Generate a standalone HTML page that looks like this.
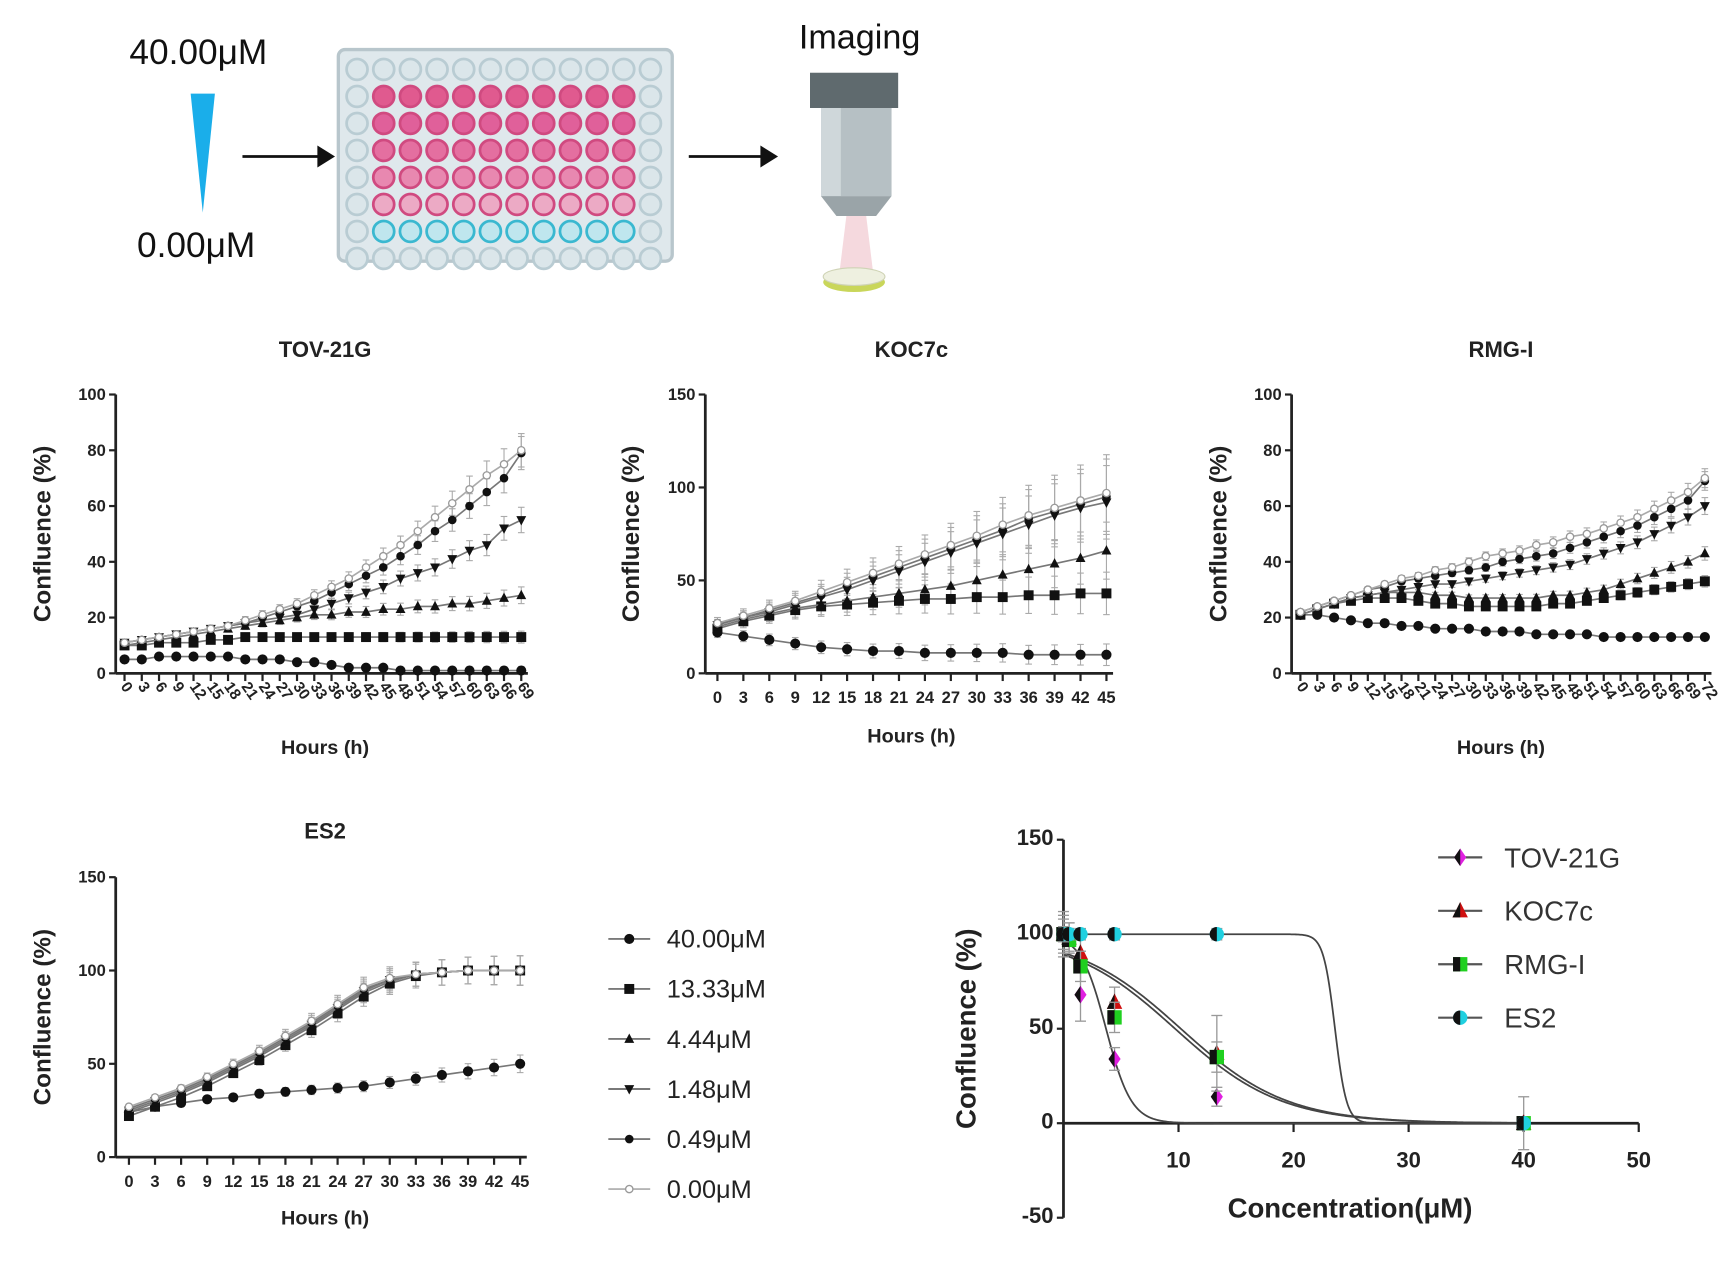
<!DOCTYPE html>
<html><head><meta charset="utf-8">
<style>
html,body{margin:0;padding:0;background:#fff;}
svg{display:block;font-family:"Liberation Sans",Arial,sans-serif;}
</style></head>
<body>
<svg id="fig" width="1728" height="1264" viewBox="0 0 1568 1147" preserveAspectRatio="none">
<g id="schematic">
  <text x="180" y="58" font-size="32" text-anchor="middle" fill="#111">40.00μM</text>
  <polygon points="173,85 195,85 184,193" fill="#1aaeea"/>
  <text x="178" y="233" font-size="32" text-anchor="middle" fill="#111">0.00μM</text>
  <line x1="220" y1="142" x2="290" y2="142" stroke="#111" stroke-width="2.5"/>
  <polygon points="288,132 304,142 288,152" fill="#111"/>
  <rect x="307" y="45" width="303" height="192" rx="6" fill="#dfe8ec" stroke="#b8c6cc" stroke-width="3"/>
  <g id="wells"></g>
  <line x1="625" y1="142" x2="692" y2="142" stroke="#111" stroke-width="2.5"/>
  <polygon points="690,132 706,142 690,152" fill="#111"/>
  <text x="780" y="44" font-size="31" text-anchor="middle" fill="#111">Imaging</text>
  <g>
    <rect x="735" y="66" width="80" height="32" fill="#5f6a6e"/>
    <rect x="745" y="98" width="64" height="80" fill="#b6c0c4"/>
    <rect x="745" y="98" width="18" height="80" fill="#cfd7da"/>
    <polygon points="745,178 809,178 795,196 759,196" fill="#9aa4a8"/>
    <polygon points="768,196 786,196 792,245 762,245" fill="#f2d0d6" opacity="0.8"/>
    <ellipse cx="775" cy="256" rx="28" ry="9" fill="#c9d65a"/>
    <ellipse cx="775" cy="251" rx="28" ry="8" fill="#eef0e0" stroke="#cfd3b5"/>
  </g>
</g>
<g id="charts"></g>
</svg>
<script>
// ---- data ----
const hoursTOV = [0,3,6,9,12,15,18,21,24,27,30,33,36,39,42,45,48,51,54,57,60,63,66,69];
const hoursKOC = [0,3,6,9,12,15,18,21,24,27,30,33,36,39,42,45];
const hoursRMG = [0,3,6,9,12,15,18,21,24,27,30,33,36,39,42,45,48,51,54,57,60,63,66,69,72];
const hoursES2 = [0,3,6,9,12,15,18,21,24,27,30,33,36,39,42,45];
const doseLabels = ["40.00μM","13.33μM","4.44μM","1.48μM","0.49μM","0.00μM"];
const tov40 = [5,5,6,6,6,6,6,5,5,5,4,4,3,2,2,2,1,1,1,1,1,1,1,1];
const tov13 = [10,10,11,11,11,12,12,13,13,13,13,13,13,13,13,13,13,13,13,13,13,13,13,13];
const tov4 = [10,11,12,13,14,15,16,17,18,19,20,21,21,22,22,23,23,24,24,25,25,26,27,28];
const tov1 = [11,12,13,14,15,16,17,18,19,20,21,23,25,27,29,31,34,36,38,41,44,46,52,55];
const tov05 = [11,12,13,14,15,16,17,18,20,22,24,26,29,32,35,38,42,46,51,55,60,65,70,79];
const tov0 = [11,12,13,14,15,16,17,19,21,23,25,28,31,34,38,42,46,51,56,61,66,71,75,80];
const koc40 = [22,20,18,16,14,13,12,12,11,11,11,11,10,10,10,10];
const koc13 = [24,28,31,34,36,37,38,39,40,40,41,41,42,42,43,43];
const koc4 = [25,29,32,35,37,39,41,43,45,47,50,53,56,59,62,66];
const koc1 = [26,30,33,37,41,45,50,55,60,65,70,75,80,85,89,92];
const koc05 = [27,30,34,38,42,47,52,57,62,67,72,77,83,87,91,95];
const koc0 = [27,31,35,39,44,49,54,59,64,69,74,80,85,89,93,97];
const rmg40 = [21,21,20,19,18,18,17,17,16,16,16,15,15,15,14,14,14,14,13,13,13,13,13,13,13];
const rmg13 = [21,23,25,26,27,27,27,26,25,25,24,24,24,24,24,25,25,26,27,28,29,30,31,32,33];
const rmg4 = [21,23,25,27,28,29,29,29,28,28,27,27,27,27,27,28,28,29,30,32,34,36,38,40,43];
const rmg1 = [21,23,25,27,28,29,30,31,32,32,33,34,35,36,37,38,39,41,43,45,47,50,53,56,60];
const rmg05 = [22,24,26,28,30,31,33,34,35,36,37,38,40,41,42,43,45,47,49,51,53,56,59,62,69];
const rmg0 = [22,24,26,28,30,32,34,35,37,38,40,42,43,44,46,47,49,50,52,54,56,59,62,65,70];
const es240 = [24,27,29,31,32,34,35,36,37,38,40,42,44,46,48,50];
const es213 = [22,27,32,38,45,52,60,68,77,86,93,97,99,100,100,100];
const es24 = [24,29,34,40,47,54,62,70,79,88,94,98,99,100,100,100];
const es21 = [25,30,35,41,48,55,63,71,80,89,95,98,99,100,100,100];
const es205 = [26,31,36,42,49,56,64,72,81,90,95,98,99,100,100,100];
const es20 = [27,32,37,43,50,57,65,73,82,91,96,98,99,100,100,100];
const concentrations = [0,0.49,1.48,4.44,13.33,40];
const respTOV = [100,98,68,34,14,0];
const respKOC = [100,98,90,64,37,0];
const respRMG = [100,97,83,56,35,0];
const respES2 = [100,100,100,100,100,0];
const respErr = [[12,8,14,6,5,2],[10,8,8,8,20,14],[8,6,8,8,8,3],[4,3,3,3,3,2]];
const fitMid = [3.7,10.2,9.7,23.6];
const fitSlope = [1.1,4.6,4.6,0.5];
const cellLines = ["TOV-21G","KOC7c","RMG-I","ES2"];

const NS="http://www.w3.org/2000/svg";
const root=document.getElementById('charts');
function el(tag,attrs,parent,text){const e=document.createElementNS(NS,tag);for(const k in attrs)e.setAttribute(k,attrs[k]);if(text!==undefined)e.textContent=text;(parent||root).appendChild(e);return e;}

const wg=document.getElementById('wells');
const pinks=["#e05a8f","#e0609a","#e46fa0","#e888b0","#ecaac5"];
for(let r=0;r<8;r++)for(let c=0;c<12;c++){
  let fill="#dbe6ea",stroke="#b9ccd3";
  if(c>0&&c<11){ if(r>=1&&r<=5){fill=pinks[r-1];stroke="#d04a80";} else if(r==6){fill="#bfe6ee";stroke="#3ab8d0";} }
  const w=el('circle',{cx:324+c*24.2,cy:63+r*24.5,r:9.5,fill:fill,stroke:stroke,'stroke-width':2.5},wg);
  
  
}

function panel(o){
  const g=el('g',{});
  
  
  const xs=v=>o.x0+(v-o.xmin)/(o.xmax-o.xmin)*(o.x1-o.x0);
  const ys=v=>o.y0-(v-o.ymin)/(o.ymax-o.ymin)*(o.y0-o.y1);
  if(o.title){
  const t=el('text',{x:o.tx,y:o.ty,'font-size':20,'font-weight':'bold','text-anchor':'middle',fill:'#222'},g,o.title);
  
  
  }
  const ya=el('line',{x1:o.ax,y1:ys(o.ymin),x2:o.ax,y2:ys(o.ymax),stroke:'#222','stroke-width':2.5},g);
  
  
  o.yticks.forEach(v=>{
    el('line',{x1:o.ax-6,y1:ys(v),x2:o.ax,y2:ys(v),stroke:'#222','stroke-width':2},g);
    const l=el('text',{x:o.ax-9,y:ys(v)+5,'font-size':o.yfs||15,'font-weight':'bold','text-anchor':'end',fill:'#222'},g,String(v));
    
    
  });
  const yl=el('text',{x:0,y:0,'font-size':o.ylfs||22,'font-weight':'bold','text-anchor':'middle',fill:'#222',transform:`translate(${o.ylx},${(ys(o.ymin)+ys(o.ymax))/2}) rotate(-90)`},g,'Confluence (%)');
  
  
  return {g,xs,ys};
}

function marker(g,si,cx,cy,gray,col){
  let m;
  if(si==1) m=el('rect',{x:cx-4.5,y:cy-4.5,width:9,height:9,fill:col},g);
  else if(si==2) m=el('polygon',{points:`${cx},${cy-5} ${cx+4.5},${cy+3.5} ${cx-4.5},${cy+3.5}`,fill:col},g);
  else if(si==3) m=el('polygon',{points:`${cx},${cy+5} ${cx+4.5},${cy-3.5} ${cx-4.5},${cy-3.5}`,fill:col},g);
  else m=el('circle',{cx:cx,cy:cy,r:si==0?4:3.3,fill:gray?'#fff':col,stroke:col,'stroke-width':1.2},g);
  
  
}

function timeChart(o){
  const {g,xs,ys}=panel(o);
  const y0=ys(0);
  const xa=el('line',{x1:o.ax,y1:y0,x2:xs(o.hours[o.hours.length-1])+6,y2:y0,stroke:'#222','stroke-width':2.5},g);
  
  
  o.hours.forEach(h=>{
    el('line',{x1:xs(h),y1:y0,x2:xs(h),y2:y0+7,stroke:'#222','stroke-width':2},g);
    let l;
    if(o.rot) l=el('text',{x:0,y:0,'font-size':14,'font-weight':'bold','text-anchor':'start',fill:'#222',transform:`translate(${xs(h)-4},${y0+12}) rotate(55)`},g,String(h));
    else l=el('text',{x:xs(h),y:y0+27,'font-size':15,'font-weight':'bold','text-anchor':'middle',fill:'#222'},g,String(h));
    
    
  });
  const xl=el('text',{x:o.tx,y:o.hy,'font-size':18,'font-weight':'bold','text-anchor':'middle',fill:'#222'},g,'Hours (h)');
  
  
  o.series.forEach((s,si)=>{
    s.forEach((v,i)=>{
      const cx=xs(o.hours[i]),cy=ys(v);
      const e=o.err*(0.6+v/40)*(0.5+i/o.hours.length);
      el('line',{x1:cx,y1:cy-e,x2:cx,y2:cy+e,stroke:'#aaa','stroke-width':1},g);
      el('line',{x1:cx-3,y1:cy-e,x2:cx+3,y2:cy-e,stroke:'#aaa','stroke-width':1},g);
      el('line',{x1:cx-3,y1:cy+e,x2:cx+3,y2:cy+e,stroke:'#aaa','stroke-width':1},g);
    });
  });
  o.series.forEach((s,si)=>{
    const gray=si==5;
    const col=gray?'#999':'#111';
    const pts=s.map((v,i)=>xs(o.hours[i])+','+ys(v)).join(' ');
    const ln=el('polyline',{points:pts,fill:'none',stroke:gray?'#aaa':'#777','stroke-width':1.5},g);
    
    
    s.forEach((v,i)=>marker(g,si,xs(o.hours[i]),ys(v),gray,col));
  });
}

timeChart({name:'tov21g-chart',title:'TOV-21G',tx:295,ty:324,ax:105,x0:113,x1:473,xmin:0,xmax:69,y0:611,y1:358,ymin:0,ymax:100,yticks:[0,20,40,60,80,100],ylx:46,hours:hoursTOV,rot:true,hy:684,err:4,
  series:[tov40,tov13,tov4,tov1,tov05,tov0]});
timeChart({name:'koc7c-chart',title:'KOC7c',tx:827,ty:324,ax:640,x0:651,x1:1004,xmin:0,xmax:45,y0:611,y1:358,ymin:0,ymax:150,yticks:[0,50,100,150],ylx:580,hours:hoursKOC,rot:false,hy:674,err:8,
  series:[koc40,koc13,koc4,koc1,koc05,koc0]});
timeChart({name:'rmgi-chart',title:'RMG-I',tx:1362,ty:324,ax:1172,x0:1180,x1:1547,xmin:0,xmax:72,y0:611,y1:358,ymin:0,ymax:100,yticks:[0,20,40,60,80,100],ylx:1113,hours:hoursRMG,rot:true,hy:684,err:2.5,
  series:[rmg40,rmg13,rmg4,rmg1,rmg05,rmg0]});
timeChart({name:'es2-chart',title:'ES2',tx:295,ty:761,ax:105,x0:117,x1:472,xmin:0,xmax:45,y0:1050,y1:796,ymin:0,ymax:150,yticks:[0,50,100,150],ylx:46,hours:hoursES2,rot:false,hy:1111,err:3,
  series:[es240,es213,es24,es21,es205,es20]});

const lg=el('g',{});


doseLabels.forEach((d,i)=>{
  const y=852+i*45.4;const gray=i==5;
  el('line',{x1:552,y1:y,x2:590,y2:y,stroke:gray?'#aaa':'#666','stroke-width':1.5},lg);
  marker(lg,i,571,y,gray,gray?'#999':'#111');
  const t=el('text',{x:605,y:y+8,'font-size':23,fill:'#222'},lg,d);
  
  
});

(function(){
  const o={name:'dose-response-chart',title:'',ax:965,x0:965,x1:1487,xmin:0,xmax:50,y0:1105,y1:762,ymin:-50,ymax:150,yticks:[-50,0,50,100,150],ylx:885,yfs:20,ylfs:25};
  const {g,xs,ys}=panel(o);
  const y0=ys(0);
  const xa=el('line',{x1:o.ax,y1:y0,x2:xs(50),y2:y0,stroke:'#222','stroke-width':2.5},g);
  
  
  [10,20,30,40,50].forEach(v=>{
    el('line',{x1:xs(v),y1:y0,x2:xs(v),y2:y0+8,stroke:'#222','stroke-width':2},g);
    const l=el('text',{x:xs(v),y:y0+40,'font-size':20,'font-weight':'bold','text-anchor':'middle',fill:'#222'},g,String(v));
    
    
  });
  const xl=el('text',{x:1225,y:1105,'font-size':25,'font-weight':'bold','text-anchor':'middle',fill:'#222'},g,'Concentration(μM)');
  
  
  const resp=[respTOV,respKOC,respRMG,respES2];
  const cols=['#e020e0','#d01010','#20d020','#20d0e0'];
  resp.forEach((r,si)=>{
    let pts=[];
    for(let c=0;c<=40;c+=0.1){const v=100/(1+Math.exp((c-fitMid[si])/fitSlope[si]));pts.push(xs(c)+','+ys(v));}
    const ln=el('polyline',{points:pts.join(' '),fill:'none',stroke:'#444','stroke-width':1.6},g);
    
    
  });
  function dmark(p,si,cx,cy){
    const c=cols[si];
    if(si==0){el('polygon',{points:`${cx},${cy-8} ${cx+5.5},${cy} ${cx},${cy+8} ${cx-5.5},${cy}`,fill:c},p);el('polygon',{points:`${cx},${cy-8} ${cx},${cy+8} ${cx-5.5},${cy}`,fill:'#111'},p);}
    else if(si==1){el('polygon',{points:`${cx},${cy-8} ${cx+7},${cy+6} ${cx-7},${cy+6}`,fill:c},p);el('polygon',{points:`${cx},${cy-8} ${cx},${cy+6} ${cx-7},${cy+6}`,fill:'#111'},p);}
    else if(si==2){el('rect',{x:cx-6.5,y:cy-6.5,width:13,height:13,fill:c},p);el('rect',{x:cx-6.5,y:cy-6.5,width:6.5,height:13,fill:'#111'},p);}
    else {el('circle',{cx:cx,cy:cy,r:6.5,fill:c},p);el('path',{d:`M${cx},${cy-6.5} A6.5,6.5 0 0 0 ${cx},${cy+6.5} Z`,fill:'#111'},p);}
  }
  resp.forEach((r,si)=>{
    r.forEach((v,i)=>{
      const cx=xs(concentrations[i]),cy=ys(v),e=respErr[si][i];
      el('line',{x1:cx,y1:ys(v+e),x2:cx,y2:ys(v-e),stroke:'#999','stroke-width':1.2},g);
      el('line',{x1:cx-5,y1:ys(v+e),x2:cx+5,y2:ys(v+e),stroke:'#999','stroke-width':1.2},g);
      el('line',{x1:cx-5,y1:ys(v-e),x2:cx+5,y2:ys(v-e),stroke:'#999','stroke-width':1.2},g);
      const m=el('g',{},g);
      
      
      dmark(m,si,cx,cy);
    });
  });
  cellLines.forEach((n,i)=>{
    const y=778+i*48.5;
    const e=el('g',{},g);
    
    
    el('line',{x1:1305,y1:y,x2:1345,y2:y,stroke:'#555','stroke-width':2},e);
    dmark(e,i,1325,y);
    el('text',{x:1365,y:y+9,'font-size':25,fill:'#333'},e,n);
  });
})();
</script>
</body></html>
